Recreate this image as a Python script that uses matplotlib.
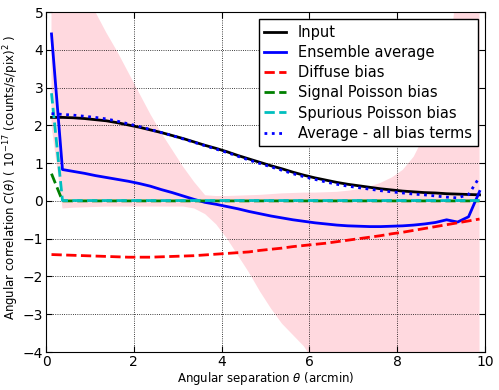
import matplotlib
matplotlib.use('Agg')
import matplotlib.pyplot as plt

theta = [0.125, 0.375, 0.625, 0.875, 1.125, 1.375, 1.625, 1.875, 2.125, 2.375,
         2.625, 2.875, 3.125, 3.375, 3.625, 3.875, 4.125, 4.375, 4.625, 4.875,
         5.125, 5.375, 5.625, 5.875, 6.125, 6.375, 6.625, 6.875, 7.125, 7.375,
         7.625, 7.875, 8.125, 8.375, 8.625, 8.875, 9.125, 9.375, 9.625, 9.875]

c_input = [2.21, 2.21, 2.20, 2.18, 2.15, 2.12, 2.07, 2.01, 1.95, 1.88,
           1.81, 1.73, 1.65, 1.56, 1.47, 1.39, 1.30, 1.20, 1.11, 1.02,
           0.93, 0.85, 0.76, 0.68, 0.61, 0.55, 0.49, 0.44, 0.40, 0.36,
           0.32, 0.29, 0.26, 0.24, 0.22, 0.21, 0.19, 0.18, 0.17, 0.16]

c_ensemble = [4.42, 0.83, 0.78, 0.73, 0.67, 0.62, 0.57, 0.52, 0.46, 0.39,
              0.30, 0.22, 0.13, 0.04, -0.04, -0.09, -0.15, -0.21, -0.28, -0.34,
              -0.40, -0.45, -0.50, -0.54, -0.58, -0.61, -0.64, -0.66, -0.67, -0.68,
              -0.68, -0.67, -0.66, -0.64, -0.61, -0.57, -0.50, -0.56, -0.42, 0.25]

c_diffuse = [-1.42, -1.43, -1.44, -1.45, -1.46, -1.47, -1.48, -1.49, -1.49, -1.49,
             -1.48, -1.47, -1.46, -1.45, -1.43, -1.41, -1.39, -1.37, -1.35, -1.31,
             -1.28, -1.25, -1.21, -1.18, -1.15, -1.12, -1.08, -1.04, -1.00, -0.96,
             -0.92, -0.87, -0.83, -0.78, -0.73, -0.68, -0.63, -0.58, -0.53, -0.48]

c_signal = [0.72] + [0.0] * 39
c_spurious = [2.85] + [0.01] * 39

c_corrected = [2.31, 2.29, 2.27, 2.24, 2.21, 2.17, 2.11, 2.04, 1.97, 1.89,
               1.81, 1.73, 1.64, 1.55, 1.46, 1.37, 1.28, 1.18, 1.08, 0.99,
               0.90, 0.81, 0.72, 0.64, 0.57, 0.50, 0.44, 0.39, 0.35, 0.31,
               0.27, 0.24, 0.21, 0.18, 0.16, 0.13, 0.10, 0.08, 0.17, 0.63]

band_hi = [10, 10, 8, 6, 5.0, 4.45, 3.95, 3.4, 2.85, 2.3,
           1.8, 1.35, 0.9, 0.5, 0.15, 0.13, 0.13, 0.14, 0.15, 0.16,
           0.18, 0.2, 0.21, 0.22, 0.22, 0.23, 0.24, 0.27, 0.31, 0.38,
           0.48, 0.62, 0.82, 1.17, 1.75, 2.3, 2.9, 6, 10, 10]

band_lo = [2.0, -0.2, -0.18, -0.17, -0.16, -0.15, -0.15, -0.15, -0.15, -0.15,
           -0.15, -0.15, -0.15, -0.2, -0.35, -0.62, -1.0, -1.45, -1.9, -2.4,
           -2.85, -3.25, -3.55, -3.85, -4.3, -6, -6, -6, -6, -6,
           -6, -6, -6, -6, -6, -6, -6, -6, -6, -6]

fig = plt.figure(figsize=(4.99, 3.9), dpi=100)
ax = fig.add_axes([0.0922, 0.0974, 0.8798, 0.8718])

ax.fill_between(theta, band_lo, band_hi, color='pink', alpha=0.6, linewidth=0)
ax.plot(theta, c_input, color='k', lw=2, label='Input')
ax.plot(theta, c_ensemble, color='b', lw=2, label='Ensemble average')
ax.plot(theta, c_diffuse, 'r--', lw=2, label='Diffuse bias')
ax.plot(theta, c_signal, 'g--', lw=2, label='Signal Poisson bias')
ax.plot(theta, c_spurious, 'c--', lw=2, label='Spurious Poisson bias')
ax.plot(theta, c_corrected, 'b:', lw=2, label='Average - all bias terms')

ax.set_xlim(0, 10)
ax.set_ylim(-4, 5)
ax.set_xticks(range(0, 11, 2))
ax.set_yticks(range(-4, 6))
ax.tick_params(direction='in', top=True, right=True, labelsize=10, length=4, pad=2)
ax.grid(True, color='k', linestyle=':', linewidth=0.6)

ax.set_xlabel(r'Angular separation $\theta$ (arcmin)', fontsize=8.5, labelpad=1)
ax.set_ylabel(r'Angular correlation $C(\theta)$ ( $10^{-17}$ (counts/s/pix)$^2$ )',
              fontsize=8.5)
ax.yaxis.set_label_coords(-0.057, 0.512)

leg = ax.legend(loc='upper right', fontsize=10.5, handlelength=1.5, fancybox=False,
                framealpha=1, labelspacing=0.35, borderpad=0.4)
leg.get_frame().set_edgecolor('k')

fig.savefig('out.png', dpi=100)
